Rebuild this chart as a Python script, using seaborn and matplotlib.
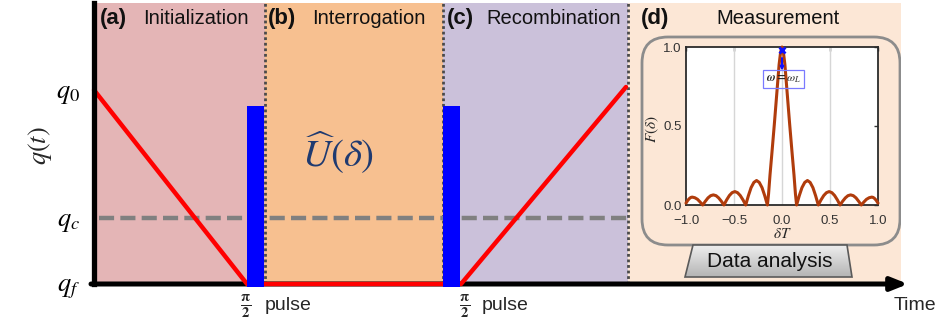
import numpy as np
import pandas as pd
import matplotlib
matplotlib.use("Agg")
import matplotlib.pyplot as plt
import seaborn as sns
from matplotlib.patches import FancyBboxPatch, Polygon
from matplotlib.colors import LinearSegmentedColormap

# ---- protocol phases along the time axis ----
phase_edges = [0.0, 1.71, 3.49, 5.34, 8.07]
phase_colors = ["#e4b5b6", "#f7c090", "#cbc1da", "#fce7d6"]
phase_tags = ["(a)", "(b)", "(c)", "(d)"]
phase_names = ["Initialization", "Interrogation", "Recombination", "Measurement"]

# ---- control parameter q(t) ----
q_levels = [1.94, 0.66, 0.0]
q_labels = [r"$q_0$", r"$q_c$", r"$q_f$"]
q_time = [0.0, 1.53, 3.67, 5.32]
q_value = [1.94, 0.0, 0.0, 1.97]

# ---- pi/2 pulses ----
pulse_start = [1.535, 3.495]
pulse_width = [0.165, 0.17]
pulse_top = 1.78
pulse_base = -0.03

# ---- Ramsey-type fringe F(delta) vs delta*T ----
delta_T = [-1.000, -0.981, -0.963, -0.949, -0.935, -0.908, -0.880, -0.853, -0.826,
           -0.798, -0.771, -0.743, -0.715, -0.687, -0.660, -0.632, -0.605,
           -0.577, -0.548, -0.520, -0.491, -0.463, -0.435, -0.406, -0.378,
           -0.350, -0.322, -0.293, -0.265, -0.237, -0.208, -0.180, -0.152,
           -0.140, -0.125, -0.105, -0.080, -0.055, -0.030, -0.015, 0.000,
           0.015, 0.030, 0.055, 0.080, 0.105, 0.125, 0.140,
           0.152, 0.180, 0.208, 0.237, 0.265, 0.293, 0.322, 0.350, 0.378,
           0.406, 0.435, 0.463, 0.491, 0.520, 0.548, 0.577, 0.605,
           0.632, 0.660, 0.687, 0.715, 0.743, 0.771, 0.798, 0.826,
           0.853, 0.880, 0.908, 0.935, 0.949, 0.963, 0.981, 1.000]
fidelity = [0.012, 0.030, 0.042, 0.048, 0.050, 0.046, 0.036, 0.019, 0.000,
            0.024, 0.045, 0.059, 0.064, 0.059, 0.045, 0.024, 0.000,
            0.032, 0.060, 0.078, 0.085, 0.078, 0.060, 0.032, 0.000,
            0.059, 0.110, 0.143, 0.155, 0.143, 0.110, 0.059, 0.000,
            0.070, 0.190, 0.330, 0.510, 0.700, 0.890, 0.965, 1.000,
            0.965, 0.890, 0.700, 0.510, 0.330, 0.190, 0.070,
            0.000, 0.059, 0.110, 0.143, 0.155, 0.143, 0.110, 0.059, 0.000,
            0.032, 0.060, 0.078, 0.085, 0.078, 0.060, 0.032, 0.000,
            0.024, 0.045, 0.059, 0.064, 0.059, 0.045, 0.024, 0.000,
            0.019, 0.036, 0.046, 0.050, 0.048, 0.042, 0.030, 0.012]
inset_xticks = [-1.0, -0.5, 0.0, 0.5, 1.0]
inset_yticks = [0.0, 0.5, 1.0]
resonance = (0.0, 0.98)

sns.set_theme(style="white")
plt.rcParams["font.family"] = ["Liberation Sans", "DejaVu Sans"]
plt.rcParams["mathtext.fontset"] = "stix"

W, H = 945, 331
fig = plt.figure(figsize=(W / 100, H / 100), dpi=100)
fig.patch.set_facecolor("white")

ax = fig.add_axes([94 / W, 1 - 284 / H, 807 / W, 281 / H])
ax.set_facecolor("none")
ax.set_xlim(phase_edges[0], phase_edges[-1])
ax.set_ylim(0, 2.81)

# shaded phases and dotted separators
for i, c in enumerate(phase_colors):
    ax.axvspan(phase_edges[i], phase_edges[i + 1], color=c, lw=0, zorder=0)
for xe in phase_edges[1:-1]:
    ax.axvline(xe, color="#4a4a4a", lw=2.0, ls=(0, (1, 1)), zorder=1)

# critical point q_c
ax.plot([0.05, phase_edges[3]], [q_levels[1]] * 2, color="#808080", lw=3.2,
        dashes=(3.4, 1.4), zorder=2)

# time axis arrow
ax.annotate("", xy=(8.14, 0), xytext=(-0.03, 0), xycoords="data",
            arrowprops=dict(arrowstyle="-|>,head_length=0.7,head_width=0.28",
                            lw=3.6, color="black", mutation_scale=14,
                            shrinkA=0, shrinkB=0),
            annotation_clip=False, zorder=2.5)

# q(t) protocol
qdf = pd.DataFrame({"t": q_time, "q": q_value})
sns.lineplot(data=qdf, x="t", y="q", ax=ax, color="#ff0000", lw=3.2,
             estimator=None, sort=False, zorder=3)
ax.lines[-1].set_clip_on(False)

# pulses
ax.bar(pulse_start, [pulse_top - pulse_base] * 2, width=pulse_width,
       bottom=pulse_base, align="edge", color="#0000ff", lw=0, zorder=4,
       clip_on=False)

# axes decoration
for s in ["top", "right", "bottom"]:
    ax.spines[s].set_visible(False)
ax.spines["left"].set_color("black")
ax.spines["left"].set_linewidth(3.8)
ax.spines["left"].set_zorder(5)
ax.set_xticks([])
ax.set_yticks(q_levels)
ax.set_yticklabels(q_labels)
ax.tick_params(axis="y", length=0, pad=10, labelsize=19, colors="black")
ax.set_xlabel("")
ax.set_ylabel("")
ax.text(-0.54, 1.38, r"$q(t)$", rotation=90, fontsize=19, ha="center",
        va="center", clip_on=False)

# phase titles
tag_x = [0.06, 1.74, 3.53, 5.47]
name_x = [0.49, 2.18, 3.92, 6.22]
for tx, nx, tag, name in zip(tag_x, name_x, phase_tags, phase_names):
    ax.text(tx, 2.655, tag, fontsize=16, fontweight="bold", ha="left",
            va="center", color="#111111")
    ax.text(nx, 2.655, name, fontsize=14.5, ha="left", va="center",
            color="#111111")

ax.text(2.44, 1.31, r"$\widehat{U}(\delta)$", fontsize=28, color="#1f3a70",
        ha="center", va="center")

# pulse captions and time label
for px_c, px_l in [(1.52, 1.71), (3.71, 3.88)]:
    ax.text(px_c, -0.22, r"$\mathbf{\frac{\pi}{2}}$", fontsize=15,
            ha="center", va="center", clip_on=False)
    ax.text(px_l, -0.21, "pulse", fontsize=14, ha="left", va="center",
            clip_on=False)
ax.text(8.0, -0.21, "Time", fontsize=14, ha="left", va="center",
        clip_on=False)

# rounded frame around the measurement panel
frame = FancyBboxPatch((5.48, 0.39), 2.58, 2.08,
                       boxstyle="round,pad=0,rounding_size=0.26",
                       fc="none", ec="#8c8c8c", lw=2.0, zorder=3)
ax.add_patch(frame)

# "Data analysis" stand
trap_pts = [(5.91, 0.07), (7.58, 0.07), (7.53, 0.39), (5.99, 0.39)]
trap = Polygon(trap_pts, closed=True, fc="none", ec="#5a5a5a", lw=1.2,
               zorder=5)
ax.add_patch(trap)
grad = np.linspace(0, 1, 64).reshape(-1, 1)
gcmap = LinearSegmentedColormap.from_list("stand", ["#b4b4b4", "#eeeeee"])
im = ax.imshow(grad, cmap=gcmap, extent=[5.91, 7.58, 0.07, 0.39],
               origin="lower", aspect="auto", zorder=4)
im.set_clip_path(trap)
ax.set_xlim(phase_edges[0], phase_edges[-1])
ax.set_ylim(0, 2.81)
ax.text(6.76, 0.225, "Data analysis", fontsize=15, ha="center", va="center",
        color="#111111", zorder=6)

# ---- inset: fringe ----
axin = fig.add_axes([686 / W, 1 - 205 / H, 192 / W, 158 / H])
axin.set_facecolor("white")
fdf = pd.DataFrame({"dT": delta_T, "F": fidelity})
sns.lineplot(data=fdf, x="dT", y="F", ax=axin, color="#b03c0c", lw=2.2,
             estimator=None, sort=False, zorder=3)
axin.lines[-1].set_clip_on(False)
axin.set_xlim(-1, 1)
axin.set_ylim(0, 1)
axin.set_xticks(inset_xticks)
axin.set_xticklabels([f"{v:.1f}".replace("-", "\u2212") for v in inset_xticks])
axin.set_yticks(inset_yticks)
axin.set_yticklabels([f"{v:.1f}" for v in inset_yticks])
for g in inset_xticks[1:-1]:
    axin.axvline(g, color="#d6d6d6", lw=1.0, zorder=1)
axin.tick_params(direction="in", length=3, width=1, top=True, right=True,
                 labelsize=9.5, pad=3, colors="#333333")
axin.tick_params(axis="x", pad=7)
for s in axin.spines.values():
    s.set_color("#2b2b2b")
    s.set_linewidth(1.3)
axin.set_xlabel(r"$\delta T$", fontsize=11)
axin.set_ylabel(r"$F(\delta)$", fontsize=11)
axin.yaxis.set_label_coords(-0.13, 0.48)
axin.xaxis.set_label_coords(0.5, -0.14)

axin.plot([resonance[0]], [resonance[1]], marker="x", color="#1010ff",
          ms=5, mew=2, zorder=5, clip_on=False)
axin.annotate("", xy=(0.0, 0.85), xytext=(0.0, 0.93),
              arrowprops=dict(arrowstyle="-|>", color="#1010ff", lw=1.5,
                              mutation_scale=5, shrinkA=0, shrinkB=0),
              zorder=5)
axin.text(0.015, 0.795, r"$\boldsymbol{\omega = \omega_L}$", fontsize=8.5,
          ha="center", va="center", zorder=6,
          bbox=dict(boxstyle="square,pad=0.25", fc="none", ec="#7a7aff",
                    lw=0.9))

fig.savefig("out.png", dpi=100)
